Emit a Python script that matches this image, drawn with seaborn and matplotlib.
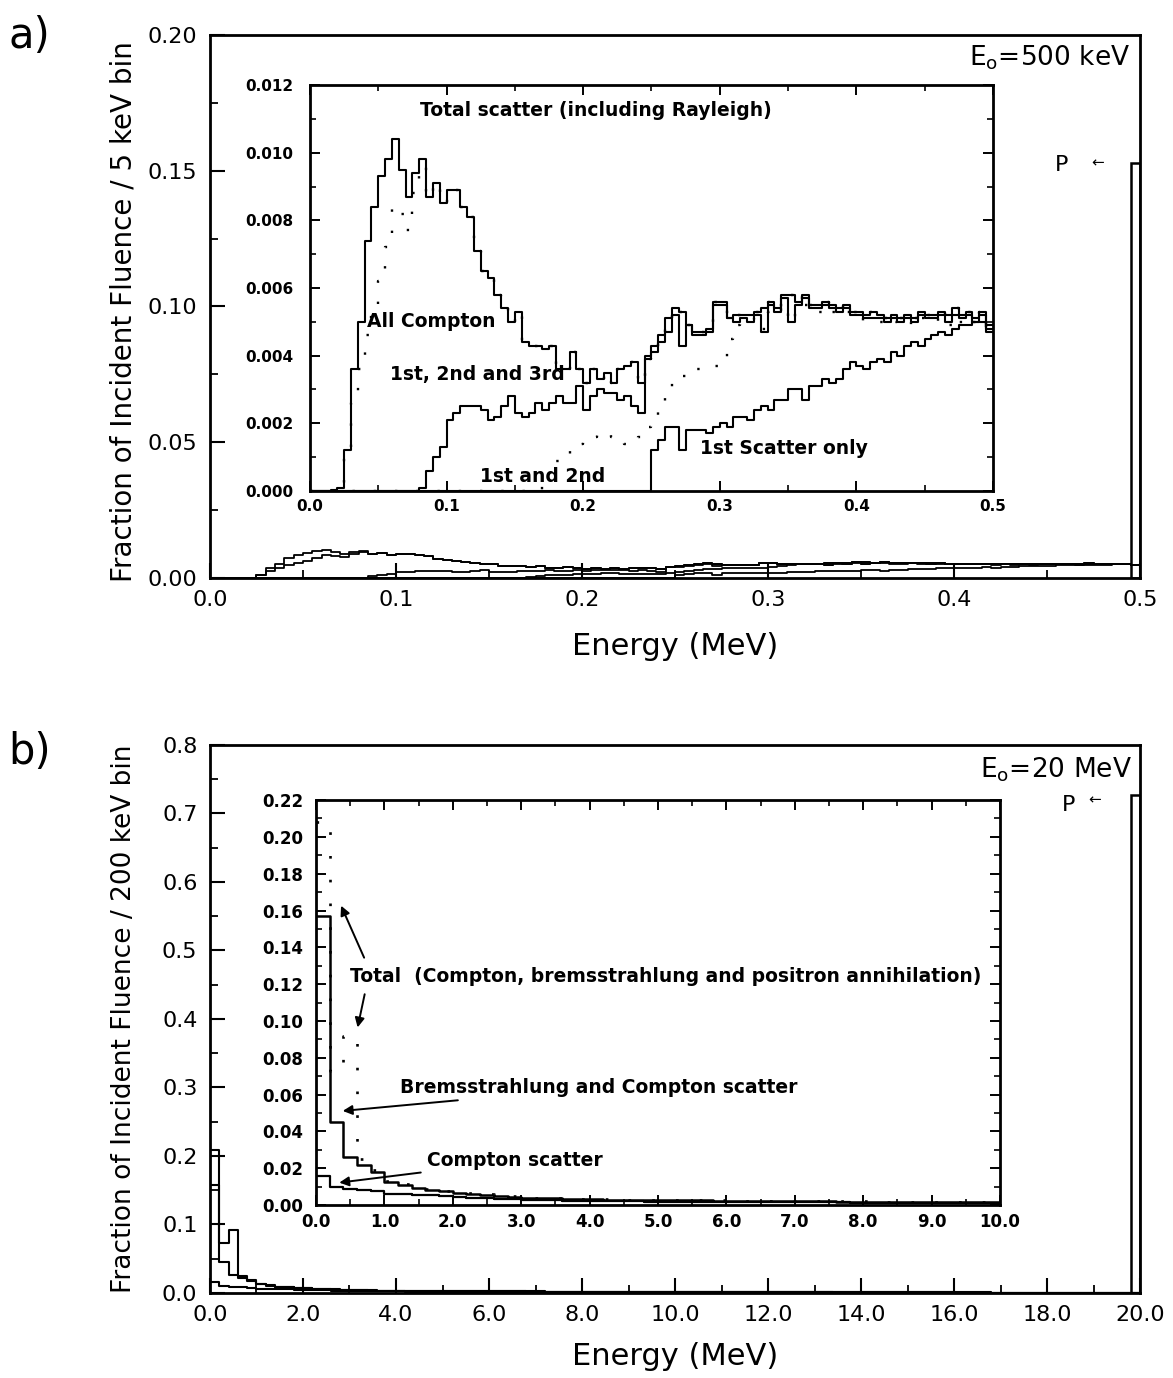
import numpy as np
import pandas as pd
import matplotlib.pyplot as plt
import matplotlib.ticker as mticker
import seaborn as sns

sns.set_style("ticks", {"xtick.direction": "in", "ytick.direction": "in",
                        "axes.edgecolor": "black", "text.color": "black",
                        "axes.labelcolor": "black", "xtick.color": "black",
                        "ytick.color": "black"})
plt.rcParams['font.family'] = ['DejaVu Sans']
plt.rcParams['mathtext.default'] = 'regular'

#%% data, panel a: 5 keV bins from 0 to 0.5 MeV
bin_a = 0.005
a_total = [0, 0, 0, 0.00003, 0.0001, 0.0012, 0.0036, 0.0050, 0.0074, 0.0084,
           0.0093, 0.0098, 0.0104, 0.0095, 0.0087, 0.0094, 0.0098, 0.0087, 0.0091, 0.0085,
           0.0089, 0.0089, 0.0084, 0.0081, 0.0071, 0.0065, 0.0063, 0.0058, 0.0054, 0.0050,
           0.0053, 0.0044, 0.0043, 0.0043, 0.0042, 0.0043, 0.0036, 0.0036, 0.0041, 0.0036,
           0.0032, 0.0036, 0.0033, 0.0035, 0.0032, 0.0036, 0.0037, 0.0038, 0.0032, 0.0039,
           0.0043, 0.0046, 0.0051, 0.0054, 0.0053, 0.0049, 0.0047, 0.0047, 0.0048, 0.0056,
           0.0056, 0.0051, 0.0052, 0.0052, 0.0052, 0.0053, 0.0054, 0.0056, 0.0054, 0.0058,
           0.0058, 0.0056, 0.0058, 0.0055, 0.0055, 0.0056, 0.0055, 0.0054, 0.0055, 0.0053,
           0.0053, 0.0052, 0.0053, 0.0052, 0.0051, 0.0052, 0.0051, 0.0052, 0.0051, 0.0053,
           0.0052, 0.0052, 0.0053, 0.0052, 0.0054, 0.0052, 0.0053, 0.0051, 0.0053, 0.0048]
a_compton = [0, 0, 0, 0, 0.0001, 0.0011, 0.0026, 0.0036, 0.0046, 0.0055,
             0.0062, 0.0072, 0.0084, 0.0082, 0.0077, 0.0088, 0.0096, 0.0087, 0.0091, 0.0085,
             0.0089, 0.0089, 0.0084, 0.0081, 0.0071, 0.0065, 0.0063, 0.0058, 0.0054, 0.0050,
             0.0053, 0.0044, 0.0043, 0.0043, 0.0042, 0.0043, 0.0036, 0.0036, 0.0041, 0.0036,
             0.0032, 0.0036, 0.0033, 0.0035, 0.0032, 0.0036, 0.0037, 0.0038, 0.0032, 0.0039,
             0.0043, 0.0046, 0.0051, 0.0054, 0.0053, 0.0049, 0.0047, 0.0047, 0.0048, 0.0056,
             0.0056, 0.0051, 0.0052, 0.0052, 0.0052, 0.0053, 0.0054, 0.0056, 0.0054, 0.0058,
             0.0058, 0.0056, 0.0058, 0.0055, 0.0055, 0.0056, 0.0055, 0.0054, 0.0055, 0.0053,
             0.0053, 0.0052, 0.0053, 0.0052, 0.0051, 0.0052, 0.0051, 0.0052, 0.0051, 0.0053,
             0.0052, 0.0052, 0.0053, 0.0052, 0.0054, 0.0052, 0.0053, 0.0051, 0.0053, 0.0048]
a_123 = [0, 0, 0, 0, 0, 0, 0, 0, 0, 0,
         0, 0, 0, 0, 0, 0, 0.0001, 0.0006, 0.0010, 0.0013,
         0.0021, 0.0023, 0.0025, 0.0025, 0.0025, 0.0024, 0.0021, 0.0022, 0.0025, 0.0028,
         0.0023, 0.0022, 0.0023, 0.0026, 0.0024, 0.0026, 0.0028, 0.0026, 0.0026, 0.0031,
         0.0024, 0.0028, 0.0030, 0.0029, 0.0029, 0.0027, 0.0028, 0.0025, 0.0023, 0.0040,
         0.0041, 0.0044, 0.0047, 0.0052, 0.0043, 0.0049, 0.0046, 0.0046, 0.0047, 0.0055,
         0.0055, 0.0051, 0.0050, 0.0051, 0.0050, 0.0052, 0.0047, 0.0055, 0.0053, 0.0057,
         0.0050, 0.0055, 0.0057, 0.0054, 0.0054, 0.0055, 0.0054, 0.0053, 0.0054, 0.0052,
         0.0052, 0.0051, 0.0051, 0.0051, 0.0050, 0.0051, 0.0050, 0.0051, 0.0050, 0.0052,
         0.0051, 0.0051, 0.0052, 0.0050, 0.0052, 0.0051, 0.0052, 0.0050, 0.0052, 0.0047]
a_12 = [0, 0, 0, 0, 0, 0, 0, 0, 0, 0,
        0, 0, 0, 0, 0, 0, 0, 0, 0, 0,
        0, 0, 0, 0, 0, 0, 0, 0, 0, 0,
        0, 0, 0, 0, 0.0005, 0.0007, 0.0009, 0.0011, 0.0012, 0.0014,
        0.0015, 0.0016, 0.0017, 0.0017, 0.0016, 0.0015, 0.0014, 0.0014, 0.0016, 0.0019,
        0.0022, 0.0025, 0.0029, 0.0032, 0.0034, 0.0035, 0.0036, 0.0036, 0.0036, 0.0037,
        0.0039, 0.0045, 0.0049, 0.0050, 0.0050, 0.0051, 0.0048, 0.0053, 0.0052, 0.0055,
        0.0050, 0.0054, 0.0055, 0.0053, 0.0053, 0.0054, 0.0053, 0.0052, 0.0053, 0.0051,
        0.0051, 0.0050, 0.0050, 0.0050, 0.0049, 0.0050, 0.0049, 0.0050, 0.0049, 0.0051,
        0.0050, 0.0050, 0.0051, 0.0049, 0.0051, 0.0050, 0.0051, 0.0050, 0.0051, 0.0047]
a_1st = [0] * 50 + [
        0.0012, 0.0015, 0.0019, 0.0019, 0.0012, 0.0018, 0.0018, 0.0018, 0.0017, 0.0019,
        0.0020, 0.0019, 0.0022, 0.0022, 0.0021, 0.0024, 0.0025, 0.0024, 0.0027, 0.0027,
        0.0030, 0.0030, 0.0027, 0.0031, 0.0031, 0.0033, 0.0032, 0.0033, 0.0036, 0.0038,
        0.0037, 0.0036, 0.0038, 0.0039, 0.0038, 0.0041, 0.0040, 0.0043, 0.0044, 0.0043,
        0.0045, 0.0046, 0.0047, 0.0046, 0.0048, 0.0049, 0.0049, 0.0050, 0.0050, 0.0049]
primary_a = 0.153   # unscattered peak, bin 0.495-0.500 MeV

#%% data, panel b: 200 keV bins from 0 to 20 MeV
bin_b = 0.2
b_total = [0.208, 0.073, 0.092, 0.025, 0.019, 0.0131, 0.0112, 0.0094, 0.0085, 0.0078,
           0.0069, 0.0063, 0.0058, 0.0053, 0.0049, 0.0044, 0.0041, 0.0038, 0.0036, 0.0034,
           0.0032, 0.0031, 0.0030, 0.0029, 0.0028, 0.0028, 0.0027, 0.0026, 0.0026, 0.0025,
           0.0024, 0.0024, 0.0023, 0.0023, 0.0022, 0.0022, 0.0021, 0.0021, 0.0020, 0.0020,
           0.0020, 0.0019, 0.0019, 0.0018, 0.0018, 0.0018, 0.0017, 0.0017, 0.0017, 0.0016,
           0.0016, 0.0016, 0.0015, 0.0015, 0.0015, 0.0014, 0.0014, 0.0014, 0.0013, 0.0013,
           0.0013, 0.0012, 0.0012, 0.0012, 0.0011, 0.0011, 0.0011, 0.0011, 0.0010, 0.0010,
           0.0010, 0.0010, 0.0009, 0.0009, 0.0009, 0.0009, 0.0008, 0.0008, 0.0008, 0.0008,
           0.0007, 0.0007, 0.0007, 0.0007, 0.0006, 0.0006, 0.0006, 0.0006, 0.0005, 0.0005,
           0.0005, 0.0005, 0.0004, 0.0004, 0.0004, 0.0004, 0.0003, 0.0003, 0.0003, 0.0003]
b_brems = [0.157, 0.0452, 0.0262, 0.0217, 0.0180, 0.0127, 0.0109, 0.0091, 0.0082, 0.0075,
           0.0066, 0.0060, 0.0055, 0.0050, 0.0046, 0.0041, 0.0038, 0.0036, 0.0034, 0.0032,
           0.0031, 0.0030, 0.0029, 0.0028, 0.0027, 0.0027, 0.0026, 0.0025, 0.0025, 0.0024,
           0.0023, 0.0023, 0.0022, 0.0022, 0.0021, 0.0021, 0.0020, 0.0020, 0.0019, 0.0019,
           0.0019, 0.0018, 0.0018, 0.0017, 0.0017, 0.0017, 0.0016, 0.0016, 0.0016, 0.0015,
           0.0015, 0.0015, 0.0014, 0.0014, 0.0014, 0.0013, 0.0013, 0.0013, 0.0012, 0.0012,
           0.0012, 0.0011, 0.0011, 0.0011, 0.0010, 0.0010, 0.0010, 0.0010, 0.0009, 0.0009,
           0.0009, 0.0009, 0.0008, 0.0008, 0.0008, 0.0008, 0.0007, 0.0007, 0.0007, 0.0007,
           0.0006, 0.0006, 0.0006, 0.0006, 0.0005, 0.0005, 0.0005, 0.0005, 0.0004, 0.0004,
           0.0004, 0.0004, 0.0003, 0.0003, 0.0003, 0.0003, 0.0002, 0.0002, 0.0002, 0.0002]
b_compton = [0.0159, 0.0099, 0.0085, 0.0080, 0.0078, 0.0062, 0.0058, 0.0055, 0.0052, 0.0049,
             0.0042, 0.0039, 0.0037, 0.0035, 0.0033, 0.0028, 0.0026, 0.0025, 0.0024, 0.0023,
             0.0022, 0.0021, 0.0021, 0.0020, 0.0019, 0.0019, 0.0018, 0.0018, 0.0017, 0.0017,
             0.0016, 0.0016, 0.0015, 0.0015, 0.0015, 0.0014, 0.0014, 0.0014, 0.0014, 0.0013,
             0.0013, 0.0013, 0.0013, 0.0012, 0.0012, 0.0012, 0.0012, 0.0011, 0.0011, 0.0011,
             0.0011, 0.0010, 0.0010, 0.0010, 0.0010, 0.0009, 0.0009, 0.0009, 0.0009, 0.0008,
             0.0008, 0.0008, 0.0008, 0.0007, 0.0007, 0.0007, 0.0007, 0.0006, 0.0006, 0.0006,
             0.0006, 0.0006, 0.0005, 0.0005, 0.0005, 0.0005, 0.0005, 0.0004, 0.0004, 0.0004,
             0.0004, 0.0004, 0.0004, 0.0003, 0.0003, 0.0003, 0.0003, 0.0003, 0.0003, 0.0002,
             0.0002, 0.0002, 0.0002, 0.0002, 0.0002, 0.0002, 0.0001, 0.0001, 0.0001, 0.0001]
primary_b = 0.727   # unscattered peak, bin 19.8-20.0 MeV

edges_a = np.round(np.arange(len(a_total) + 1) * bin_a, 4)
edges_b = np.round(np.arange(len(b_total) + 1) * bin_b, 4)


def step(ax, edges, vals, ls='-', lw=1.5):
    df = pd.DataFrame({'E': (edges[:-1] + edges[1:]) / 2, 'w': vals})
    sns.histplot(data=df, x='E', weights='w', bins=list(edges), element='step',
                 fill=False, color='black', linewidth=lw, linestyle=ls, ax=ax)


def peak(ax, lo, hi, val):
    df = pd.DataFrame({'E': [(lo + hi) / 2], 'w': [val]})
    sns.histplot(data=df, x='E', weights='w', bins=[lo, hi], element='bars',
                 fill=False, color='black', linewidth=1.8, ax=ax)


def style_main(ax):
    for s in ax.spines.values():
        s.set_linewidth(2)
    ax.tick_params(which='major', length=11, width=1.5, labelsize=16, pad=9)
    ax.tick_params(which='minor', length=6, width=1.3)
    ax.set_xlabel('Energy (MeV)', fontsize=22)


def style_inset(ax, size):
    ax.set_facecolor('white')
    for s in ax.spines.values():
        s.set_linewidth(2)
    ax.tick_params(which='both', top=True, right=True)
    ax.tick_params(which='major', length=7, width=1.4, labelsize=size, pad=6)
    ax.tick_params(which='minor', length=4, width=1.2)
    for lab in ax.get_xticklabels() + ax.get_yticklabels():
        lab.set_fontweight('bold')
    ax.set_xlabel('')
    ax.set_ylabel('')


dotted = (0, (1, 8))
fig = plt.figure(figsize=(11.73, 13.78), dpi=100)

#%% panel a
ax_a = fig.add_axes([0.179, 0.5806, 0.793, 0.394])
for series in [a_total, a_compton, a_123, a_12, a_1st]:
    step(ax_a, edges_a, series, lw=1.3)
peak(ax_a, edges_a[-2], edges_a[-1], primary_a)
ax_a.set_xlim(0, 0.5)
ax_a.set_ylim(0, 0.2)
ax_a.xaxis.set_major_locator(mticker.MultipleLocator(0.1))
ax_a.xaxis.set_minor_locator(mticker.MultipleLocator(0.05))
ax_a.yaxis.set_major_locator(mticker.MultipleLocator(0.05))
ax_a.yaxis.set_minor_locator(mticker.MultipleLocator(0.025))
ax_a.xaxis.set_major_formatter(mticker.FormatStrFormatter('%.1f'))
ax_a.yaxis.set_major_formatter(mticker.FormatStrFormatter('%.2f'))
style_main(ax_a)
ax_a.set_ylabel('Fraction of Incident Fluence / 5 keV bin', fontsize=20)
ax_a.yaxis.set_label_coords(-0.078, 0.49)
ax_a.xaxis.set_label_coords(0.5, -0.1)
ax_a.text(0.989, 0.959, 'E$_{o}$=500 keV', transform=ax_a.transAxes,
          ha='right', va='center', fontsize=19)
ax_a.text(0.458, 0.152, 'P', ha='center', va='center', fontsize=16)
ax_a.text(0.477, 0.153, '←', ha='center', va='center', fontsize=11)

ins_a = fig.add_axes([0.2643, 0.6437, 0.5822, 0.2946])
step(ins_a, edges_a, a_total, lw=1.5)
step(ins_a, edges_a, a_compton, ls=dotted, lw=1.7)
step(ins_a, edges_a, a_123, lw=1.5)
step(ins_a, edges_a, a_12, ls=dotted, lw=1.7)
step(ins_a, edges_a, a_1st, lw=1.5)
ins_a.set_xlim(0, 0.5)
ins_a.set_ylim(0, 0.012)
ins_a.xaxis.set_major_locator(mticker.MultipleLocator(0.1))
ins_a.xaxis.set_minor_locator(mticker.MultipleLocator(0.05))
ins_a.yaxis.set_major_locator(mticker.MultipleLocator(0.002))
ins_a.yaxis.set_minor_locator(mticker.MultipleLocator(0.001))
ins_a.xaxis.set_major_formatter(mticker.FormatStrFormatter('%.1f'))
ins_a.yaxis.set_major_formatter(mticker.FormatStrFormatter('%.3f'))
style_inset(ins_a, 11)
ins_a.tick_params(axis='y', pad=12)
lab_kw = dict(fontsize=13.5, fontweight='bold', va='center', ha='left')
ins_a.text(0.0805, 0.01126, 'Total scatter (including Rayleigh)', **lab_kw)
ins_a.text(0.0415, 0.0050, 'All Compton', **lab_kw)
ins_a.text(0.0586, 0.00343, '1st, 2nd and 3rd', **lab_kw)
ins_a.text(0.1245, 0.00042, '1st and 2nd', **lab_kw)
ins_a.text(0.2855, 0.00127, '1st Scatter only', **lab_kw)

#%% panel b
ax_b = fig.add_axes([0.179, 0.0617, 0.793, 0.3977])
for series in [b_total, b_brems, b_compton]:
    step(ax_b, edges_b, series, lw=1.5)
peak(ax_b, edges_b[-2], edges_b[-1], primary_b)
ax_b.set_xlim(0, 20)
ax_b.set_ylim(0, 0.8)
ax_b.xaxis.set_major_locator(mticker.MultipleLocator(2))
ax_b.xaxis.set_minor_locator(mticker.MultipleLocator(1))
ax_b.yaxis.set_major_locator(mticker.MultipleLocator(0.1))
ax_b.yaxis.set_minor_locator(mticker.MultipleLocator(0.05))
ax_b.xaxis.set_major_formatter(mticker.FormatStrFormatter('%.1f'))
ax_b.yaxis.set_major_formatter(mticker.FormatStrFormatter('%.1f'))
style_main(ax_b)
ax_b.set_ylabel('Fraction of Incident Fluence / 200 keV bin', fontsize=19)
ax_b.yaxis.set_label_coords(-0.078, 0.5)
ax_b.xaxis.set_label_coords(0.5, -0.09)
ax_b.text(0.991, 0.954, 'E$_{o}$=20 MeV', transform=ax_b.transAxes,
          ha='right', va='center', fontsize=19)
ax_b.text(18.45, 0.712, 'P', ha='center', va='center', fontsize=16)
ax_b.text(19.03, 0.72, '←', ha='center', va='center', fontsize=11)

ins_b = fig.add_axes([0.2694, 0.1255, 0.5831, 0.2939])
step(ins_b, edges_b, b_total, ls=dotted, lw=1.9)
step(ins_b, edges_b, b_brems, lw=1.8)
step(ins_b, edges_b, b_compton, lw=1.6)
ins_b.set_xlim(0, 10)
ins_b.set_ylim(0, 0.22)
ins_b.xaxis.set_major_locator(mticker.MultipleLocator(1))
ins_b.xaxis.set_minor_locator(mticker.MultipleLocator(0.5))
ins_b.yaxis.set_major_locator(mticker.MultipleLocator(0.02))
ins_b.yaxis.set_minor_locator(mticker.MultipleLocator(0.01))
ins_b.xaxis.set_major_formatter(mticker.FormatStrFormatter('%.1f'))
ins_b.yaxis.set_major_formatter(mticker.FormatStrFormatter('%.2f'))
style_inset(ins_b, 12)
ins_b.tick_params(axis='y', pad=9)
arrow = dict(arrowstyle='-|>', color='black', lw=1.4, mutation_scale=14)
ins_b.text(0.5, 0.124, 'Total  (Compton, bremsstrahlung and positron annihilation)',
           **lab_kw)
ins_b.annotate('', xy=(0.35, 0.164), xytext=(0.72, 0.133), arrowprops=arrow)
ins_b.annotate('', xy=(0.6, 0.095), xytext=(0.72, 0.116), arrowprops=arrow)
ins_b.annotate('Bremsstrahlung and Compton scatter', xy=(0.35, 0.051),
               xytext=(1.23, 0.064), arrowprops=arrow, **lab_kw)
ins_b.annotate('Compton scatter', xy=(0.3, 0.012), xytext=(1.62, 0.024),
               arrowprops=arrow, **lab_kw)

fig.text(0.007, 0.974, 'a)', fontsize=30, va='center', ha='left')
fig.text(0.007, 0.454, 'b)', fontsize=30, va='center', ha='left')

fig.savefig('out.png', dpi=100)
